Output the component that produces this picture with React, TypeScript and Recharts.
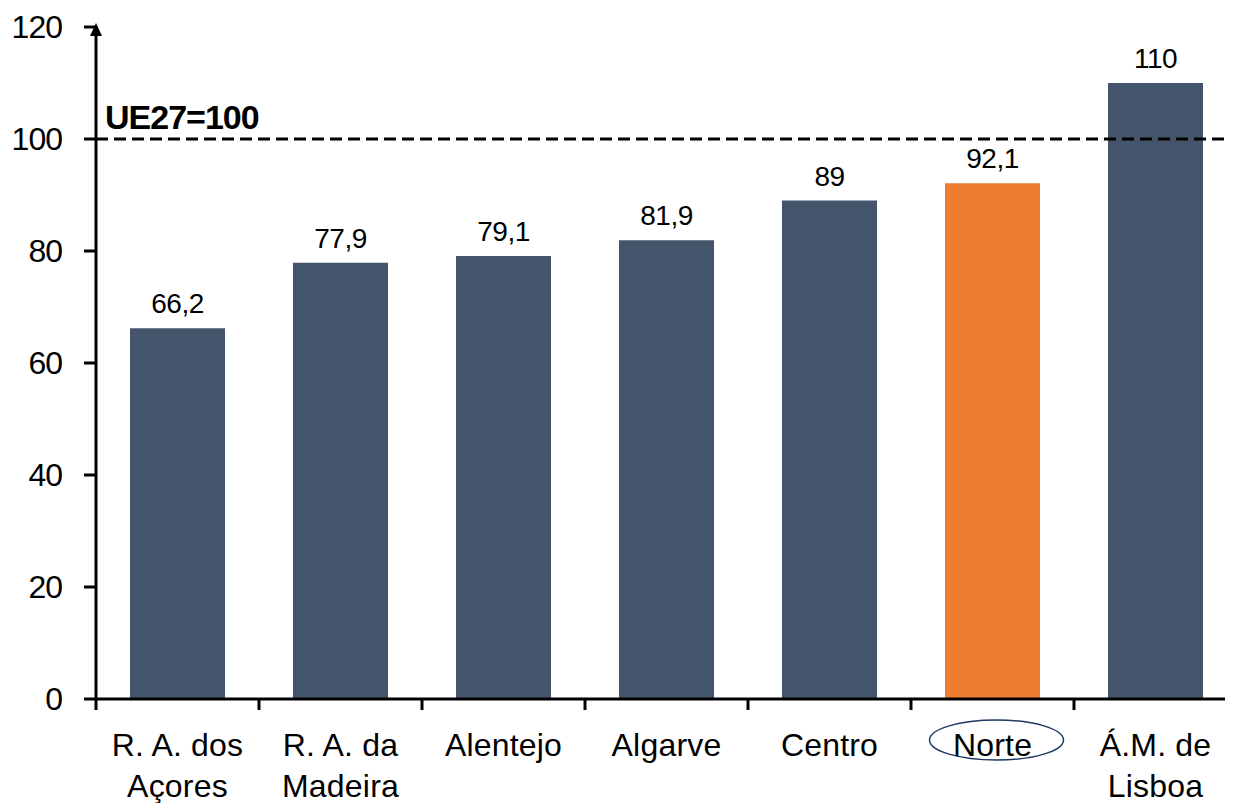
import React from 'react';
import { BarChart, Bar, XAxis, YAxis, ReferenceLine, Cell, LabelList } from 'recharts';

const categories = ['R. A. dos\nAçores', 'R. A. da\nMadeira', 'Alentejo', 'Algarve', 'Centro', 'Norte', 'Á.M. de\nLisboa'];
const values = [66.2, 77.9, 79.1, 81.9, 89, 92.1, 110];
const highlighted = 'Norte';
const yTicks = [0, 20, 40, 60, 80, 100, 120];
const referenceValue = 100;
const referenceLabel = 'UE27=100';

const data = categories.map((c, i) => ({ name: c, value: values[i] }));

const FONT = '"Liberation Sans", Arial, sans-serif';
const BAR_COLOR = '#44546A';
const HIGHLIGHT_COLOR = '#ED7D31';

const fmt = (v: number) => String(v).replace('.', ',');

const CategoryTick = (props: any) => {
  const { x, y, payload, width, visibleTicksCount } = props;
  const lines: string[] = String(payload.value).split('\n');
  const band = width / visibleTicksCount;
  const isHi = payload.value === highlighted;
  return (
    <g>
      <line x1={x - band / 2} x2={x - band / 2} y1={y} y2={y + 11} stroke="#000" strokeWidth={3} />
      {isHi && (
        <ellipse cx={x + 4} cy={y + 41} rx={67} ry={20} fill="none" stroke="#1F3864" strokeWidth={1.5} />
      )}
      {lines.map((l, i) => (
        <text key={i} x={x} y={y + 57 + i * 41} textAnchor="middle" fontFamily={FONT} fontSize={32} letterSpacing={0.2} fill="#000">
          {l}
        </text>
      ))}
    </g>
  );
};

const ValueLabel = (props: any) => {
  const { x, y, width, value } = props;
  return (
    <text x={x + width / 2} y={y - 15} textAnchor="middle" fontFamily={FONT} fontSize={28} letterSpacing={-0.5} fill="#000">
      {fmt(value)}
    </text>
  );
};

const RefLabel = (props: any) => {
  const vb = props.viewBox || {};
  return (
    <text x={vb.x + 9} y={vb.y - 10} fontFamily={FONT} fontSize={34} fontWeight="bold" letterSpacing={-1} fill="#000">
      {referenceLabel}
    </text>
  );
};

export default function App() {
  return (
    <div style={{ marginLeft: -8, marginTop: -8, width: 1233, height: 803, overflow: 'hidden', position: 'relative', background: '#fff' }}>
      <svg width={0} height={0} style={{ position: 'absolute' }}>
        <defs>
          <marker id="arrowHead" markerUnits="userSpaceOnUse" markerWidth={13} markerHeight={12} viewBox="0 0 13 12" refX={9} refY={6} orient="auto-start-reverse">
            <path d="M0,0 L13,6 L0,12 z" fill="#000" />
          </marker>
        </defs>
      </svg>
      <BarChart width={1240} height={803} data={data} margin={{ top: 27, right: 3, left: 8, bottom: 0 }}>
        <XAxis
          dataKey="name"
          interval={0}
          height={104}
          tickSize={0}
          tickMargin={0}
          tickLine={false}
          axisLine={{ stroke: '#000', strokeWidth: 3, markerEnd: 'url(#arrowHead)' } as any}
          tick={<CategoryTick />}
        />
        <YAxis
          width={88}
          domain={[0, 120]}
          ticks={yTicks}
          interval={0}
          tickSize={12}
          tickMargin={22}
          axisLine={{ stroke: '#000', strokeWidth: 3, markerStart: 'url(#arrowHead)' } as any}
          tickLine={{ stroke: '#000', strokeWidth: 3 }}
          tick={{ fontFamily: FONT, fontSize: 32, fill: '#000', letterSpacing: -1 }}
        />
        <Bar dataKey="value" barSize={95} isAnimationActive={false}>
          {data.map((d, i) => (
            <Cell key={i} fill={d.name === highlighted ? HIGHLIGHT_COLOR : BAR_COLOR} />
          ))}
          <LabelList dataKey="value" content={<ValueLabel />} />
        </Bar>
        <ReferenceLine y={referenceValue} stroke="#000" strokeWidth={3} strokeDasharray="12 6" label={<RefLabel />} />
      </BarChart>
    </div>
  );
}
